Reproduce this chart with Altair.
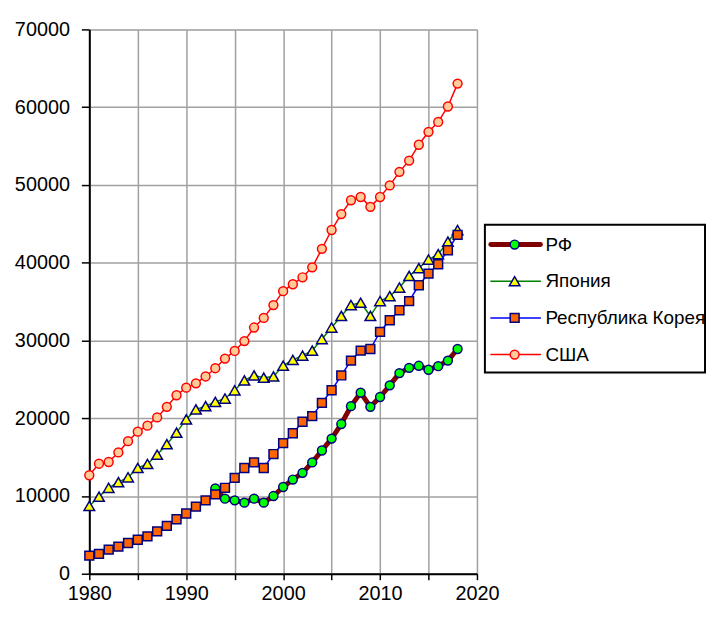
import altair as alt
import pandas as pd

years = list(range(1980, 2019))
usa = [12660, 14150, 14370, 15600, 17050, 18270, 19040, 20100, 21460, 22950,
       23930, 24480, 25370, 26430, 27670, 28650, 29920, 31660, 32900, 34550,
       36340, 37230, 38120, 39400, 41780, 44200, 46250, 48030, 48450, 47180,
       48450, 49940, 51680, 53130, 55170, 56830, 58100, 60090, 63030]
japan = [8710, 9910, 11050, 11770, 12400, 13600, 14110, 15300, 16660, 18140,
         19850, 21130, 21550, 22100, 22530, 23590, 24860, 25500, 25210, 25370,
         26760, 27500, 28050, 28690, 30180, 31660, 33150, 34550, 34850, 33150,
         35060, 35700, 36800, 38300, 39300, 40400, 41100, 42700, 44200]
korea = [2330, 2550, 3100, 3480, 3950, 4370, 4810, 5440, 6160, 7010,
         7740, 8630, 9440, 10200, 11050, 12330, 13600, 14320, 13600, 15390,
         16790, 18070, 19550, 20270, 21970, 23590, 25500, 27410, 28690, 28900,
         31110, 32600, 33880, 35060, 37100, 38600, 39800, 41600, 43570]
rf_years = list(range(1993, 2019))
rf = [10960, 9650, 9440, 9140, 9650, 9140, 9990, 11150, 12110, 12970,
      14320, 15850, 17380, 19250, 21550, 23290, 21460, 22730, 24230, 25800,
      26480, 26740, 26230, 26690, 27410, 28900]

labels = ["РФ", "Япония", "Республика Корея", "США"]
line_colors = ["#800000", "#008000", "#0000FF", "#FF0000"]
line_widths = [5, 1.5, 1.5, 1.5]
fills = ["#00FF00", "#FFFF00", "#FF6600", "#FFCC99"]
strokes = ["#000080", "#000080", "#000080", "#FF0000"]
shapes = ["circle", "triangle-up", "square", "circle"]
sizes = [80, 115, 80, 80]

FONT = "Liberation Sans"
W, H = 391, 549

series_data = [
    (rf_years, rf),
    (years, japan),
    (years, korea),
    (years, usa),
]

x_scale = alt.Scale(domain=[1980, 2020], nice=False)
y_scale = alt.Scale(domain=[0, 70000], nice=False)
x_axis = alt.Axis(values=list(range(1980, 2021, 5)), format="d",
                  labelExpr="datum.value % 10 == 0 ? datum.label : ''",
                  labelFlush=False, labelOverlap=False,
                  title=None, grid=True, gridColor="#A0A0A0", gridWidth=1.5,
                  domainColor="black", domainWidth=2, tickColor="black",
                  tickWidth=1.5, tickSize=6, labelPadding=4,
                  labelFont=FONT, labelFontSize=20, labelColor="black")
y_axis = alt.Axis(values=list(range(0, 70001, 10000)), format="d",
                  title=None, grid=True, gridColor="#A0A0A0", gridWidth=1.5,
                  domainColor="black", domainWidth=2, tickColor="black",
                  tickWidth=1.5, tickSize=8, labelPadding=12,
                  labelFont=FONT, labelFontSize=20, labelColor="black")

layers = []
for i, (yrs, vals) in enumerate(series_data):
    df = pd.DataFrame({"year": yrs, "value": vals, "series": labels[i]})
    base = alt.Chart(df).encode(
        x=alt.X("year:Q", scale=x_scale, axis=x_axis),
        y=alt.Y("value:Q", scale=y_scale, axis=y_axis),
    )
    line = base.mark_line(color=line_colors[i], strokeWidth=line_widths[i],
                          strokeJoin="round", strokeCap="round")
    pts = base.mark_point(shape=shapes[i], filled=True, fill=fills[i],
                          stroke=strokes[i], strokeWidth=1.5, size=sizes[i],
                          opacity=1)
    layers += [line, pts]

main = alt.layer(*layers)

leg_df = pd.DataFrame({
    "label": labels, "row": [0, 1, 2, 3],
    "lc": line_colors, "lw": line_widths, "fill": fills,
    "stroke": strokes, "shape": shapes, "size": sizes,
})
box = alt.Chart(pd.DataFrame({"a": [0]})).mark_rect(
    fill="white", stroke="black", strokeWidth=2
).encode(x=alt.value(399), x2=alt.value(621), y=alt.value(197), y2=alt.value(346))
ly = alt.Y("row:Q", scale=alt.Scale(domain=[0, 3], range=[217, 328]), axis=None)
leg_base = alt.Chart(leg_df).encode(y=ly)
leg_lines = leg_base.mark_rule(strokeCap="round").encode(
    x=alt.value(405), x2=alt.value(455),
    color=alt.Color("lc:N", scale=None, legend=None),
    strokeWidth=alt.StrokeWidth("lw:Q", scale=None, legend=None),
)
leg_pts = leg_base.mark_point(filled=True, opacity=1, strokeWidth=1.5).encode(
    x=alt.value(429),
    shape=alt.Shape("shape:N", scale=None, legend=None),
    fill=alt.Fill("fill:N", scale=None, legend=None),
    stroke=alt.Stroke("stroke:N", scale=None, legend=None),
    size=alt.Size("size:Q", scale=None, legend=None),
)
leg_text = leg_base.mark_text(align="left", baseline="middle", font=FONT,
                              fontSize=19, color="black").encode(
    x=alt.value(460), text="label:N")
legend = alt.layer(box, leg_lines, leg_pts, leg_text)

chart = alt.layer(main, legend).resolve_scale(
    y="independent", x="independent"
).properties(
    width=W, height=H,
    padding={"left": 6, "top": 9, "right": 0, "bottom": 5},
).configure_view(stroke=None).configure(background="white")

chart.save("out.html", embed_options={"renderer": "svg", "actions": False})
